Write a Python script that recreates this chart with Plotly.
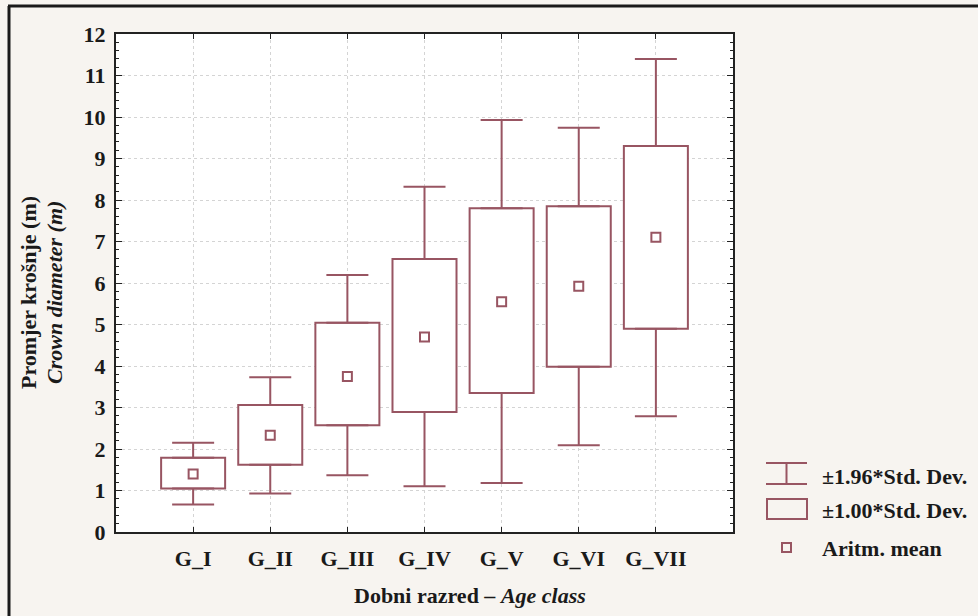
import plotly.graph_objects as go

categories = ["G_I", "G_II", "G_III", "G_IV", "G_V", "G_VI", "G_VII"]
means = [1.40, 2.33, 3.75, 4.70, 5.55, 5.92, 7.10]
box_low = [1.05, 1.62, 2.57, 2.89, 3.35, 3.98, 4.90]
box_high = [1.79, 3.06, 5.04, 6.58, 7.80, 7.85, 9.30]
whisk_low = [0.66, 0.93, 1.37, 1.10, 1.18, 2.09, 2.79]
whisk_high = [2.15, 3.73, 6.19, 8.32, 9.93, 9.74, 11.40]
y_ticks = list(range(0, 13))

LINE = "#985562"
BG = "#f7f4f0"
FONT = "Liberation Serif"

W, H = 978, 616
L, R, T, B = 116, 733, 34, 532


def px(x):
    return (x - L) / (R - L)


def py(y):
    return (B - y) / (B - T)


idx = list(range(len(categories)))

fig = go.Figure()

fig.add_trace(go.Bar(
    x=idx, base=box_low, y=[h - l for h, l in zip(box_high, box_low)],
    width=0.83, marker=dict(color="white", line=dict(color=LINE, width=2)),
    showlegend=False, hoverinfo="skip"))

fig.add_trace(go.Scatter(
    x=idx, y=box_high, mode="markers",
    marker=dict(size=1, color="rgba(0,0,0,0)"),
    error_y=dict(type="data", symmetric=False,
                 array=[w - b for w, b in zip(whisk_high, box_high)],
                 arrayminus=[0] * len(idx), width=21, thickness=2, color=LINE),
    showlegend=False, hoverinfo="skip"))

fig.add_trace(go.Scatter(
    x=idx, y=box_low, mode="markers",
    marker=dict(size=1, color="rgba(0,0,0,0)"),
    error_y=dict(type="data", symmetric=False,
                 array=[0] * len(idx),
                 arrayminus=[b - w for b, w in zip(box_low, whisk_low)],
                 width=21, thickness=2, color=LINE),
    showlegend=False, hoverinfo="skip"))

fig.add_trace(go.Scatter(
    x=idx, y=means, mode="markers",
    marker=dict(symbol="square-open", size=9, color=LINE, line=dict(width=2, color=LINE)),
    showlegend=False, hoverinfo="skip"))

tickfont = dict(family=FONT, size=22, color="#1a1a1a", weight="bold")

fig.update_layout(
    width=W, height=H,
    margin=dict(l=L, r=W - R, t=T, b=H - B, pad=0),
    paper_bgcolor=BG, plot_bgcolor="white",
    barmode="overlay",
    showlegend=False,
    xaxis=dict(range=[-1, 7], tickmode="array", tickvals=idx, ticktext=categories,
               tickfont=tickfont, ticks="inside", ticklen=5, tickcolor="#222",
               showline=True, linecolor="#222", linewidth=2, mirror="ticks",
               showgrid=True, gridcolor="#d4d4d4", griddash="dot", gridwidth=1,
               zeroline=False, ticklabelstandoff=6, fixedrange=True),
    yaxis=dict(range=[0, 12], tickmode="array", tickvals=y_ticks,
               tickfont=tickfont, ticks="inside", ticklen=6, tickcolor="#222",
               minor=dict(dtick=0.2, ticks="inside", ticklen=3, tickcolor="#222", showgrid=False),
               showline=True, linecolor="#222", linewidth=2, mirror="ticks",
               showgrid=True, gridcolor="#d4d4d4", griddash="dot", gridwidth=1,
               zeroline=False, ticklabelstandoff=4, fixedrange=True),
)

shapes = []
# outer frame (top and left edges)
shapes.append(dict(type="line", xref="paper", yref="paper", x0=px(8), x1=px(978), y0=py(6), y1=py(6),
                   line=dict(color="#1a1a1a", width=3)))
shapes.append(dict(type="line", xref="paper", yref="paper", x0=px(9), x1=px(9), y0=py(6), y1=py(616),
                   line=dict(color="#1a1a1a", width=3)))
# legend symbols
lw = dict(color=LINE, width=2)
shapes += [
    dict(type="line", xref="paper", yref="paper", x0=px(766), x1=px(807), y0=py(463), y1=py(463), line=lw),
    dict(type="line", xref="paper", yref="paper", x0=px(766), x1=px(807), y0=py(484), y1=py(484), line=lw),
    dict(type="line", xref="paper", yref="paper", x0=px(786.5), x1=px(786.5), y0=py(463), y1=py(484), line=lw),
    dict(type="rect", xref="paper", yref="paper", x0=px(767), x1=px(807), y0=py(499), y1=py(519), line=lw,
         fillcolor="rgba(0,0,0,0)"),
    dict(type="rect", xref="paper", yref="paper", x0=px(782), x1=px(791), y0=py(543), y1=py(552), line=lw,
         fillcolor="rgba(0,0,0,0)"),
]
fig.update_layout(shapes=shapes)

ann_font = dict(family=FONT, size=22, color="#1a1a1a")
annotations = [
    dict(text="<b>±1.96*Std. Dev.</b>", x=px(820), y=py(476), xref="paper", yref="paper",
         xanchor="left", yanchor="middle", showarrow=False, font=ann_font),
    dict(text="<b>±1.00*Std. Dev.</b>", x=px(820), y=py(510), xref="paper", yref="paper",
         xanchor="left", yanchor="middle", showarrow=False, font=ann_font),
    dict(text="<b>Aritm. mean</b>", x=px(820), y=py(548), xref="paper", yref="paper",
         xanchor="left", yanchor="middle", showarrow=False, font=ann_font),
    dict(text="<b>Dobni razred – </b><b><i>Age class</i></b>", x=px(470), y=py(595), xref="paper",
         yref="paper", xanchor="center", yanchor="middle", showarrow=False, font=ann_font),
    dict(text="<b>Promjer krošnje (m)</b>", x=px(28), y=py(293), xref="paper", yref="paper",
         xanchor="center", yanchor="middle", textangle=-90, showarrow=False, font=ann_font),
    dict(text="<b><i>Crown diameter (m)</i></b>", x=px(54), y=py(293), xref="paper", yref="paper",
         xanchor="center", yanchor="middle", textangle=-90, showarrow=False, font=ann_font),
]
fig.update_layout(annotations=annotations)

fig.write_html("out.html")
